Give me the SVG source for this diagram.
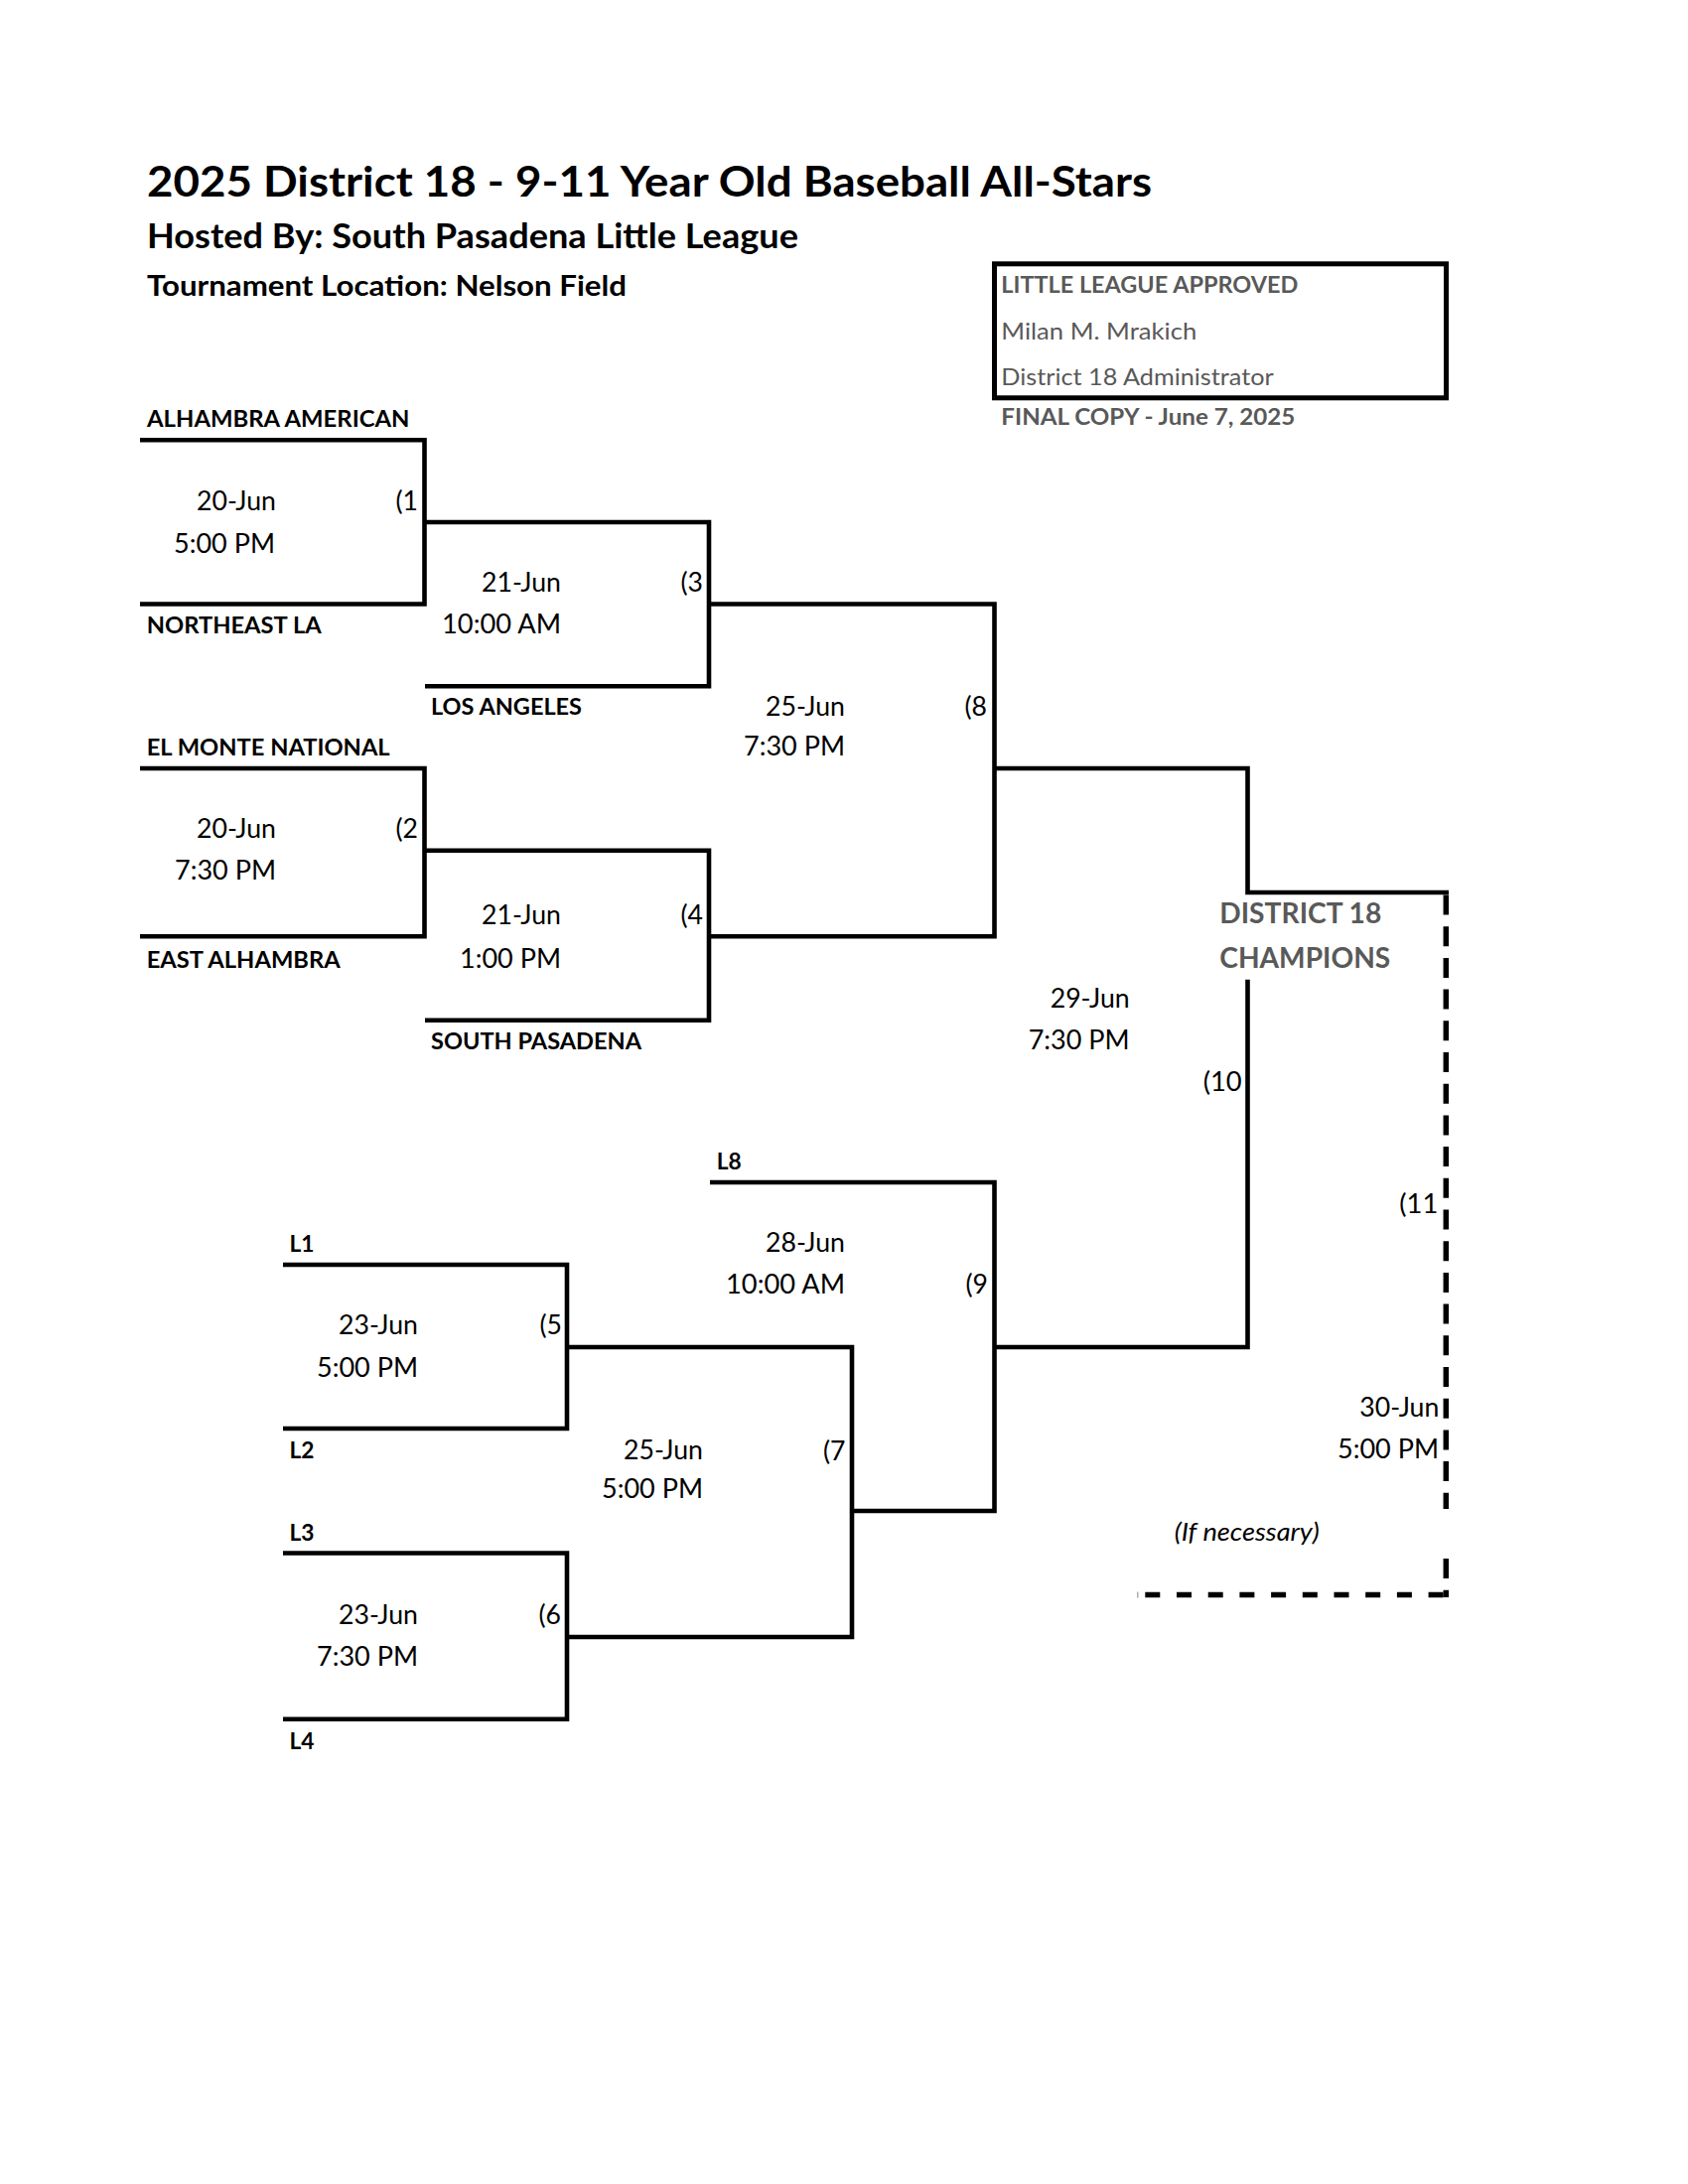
<svg xmlns="http://www.w3.org/2000/svg" width="1700" height="2200" viewBox="0 0 1700 2200">
<style>
text{font-family:Lato,"Liberation Sans",sans-serif;fill:#000}
.h{font-weight:bold}
.n{font-size:23.5px;font-weight:bold}
.d{font-size:27px;text-anchor:end}
.g{fill:#595959}
.ln{stroke:#000;stroke-width:4.6;fill:none;stroke-linejoin:miter}
.dv{stroke:#000;stroke-width:5.5;fill:none;stroke-dasharray:20 11.7}
.dh{stroke:#000;stroke-width:5.5;fill:none;stroke-dasharray:15 16.7}
</style>
<rect width="1700" height="2200" fill="#fff"/>
<g id="header">
<text class="h" x="148" y="198.3" font-size="42" textLength="1012" lengthAdjust="spacingAndGlyphs">2025 District 18 - 9-11 Year Old Baseball All-Stars</text>
<text class="h" x="148" y="250" font-size="33.5" textLength="656" lengthAdjust="spacingAndGlyphs">Hosted By: South Pasadena Little League</text>
<text class="h" x="148" y="297.7" font-size="29.3" textLength="483" lengthAdjust="spacingAndGlyphs">Tournament Location: Nelson Field</text>
</g>
<g id="approval">
<rect x="1001.5" y="265.8" width="455" height="135" fill="none" stroke="#000" stroke-width="5"/>
<text class="h g" x="1008.3" y="295" font-size="22" textLength="299" lengthAdjust="spacingAndGlyphs">LITTLE LEAGUE APPROVED</text>
<text class="g" x="1008.3" y="341.7" font-size="23.3" textLength="197" lengthAdjust="spacingAndGlyphs">Milan M. Mrakich</text>
<text class="g" x="1008.3" y="388.3" font-size="23.3" textLength="274.4" lengthAdjust="spacingAndGlyphs">District 18 Administrator</text>
<text class="h g" x="1008.3" y="428.3" font-size="22" textLength="296" lengthAdjust="spacingAndGlyphs">FINAL COPY - June 7, 2025</text>
</g>
<g id="connectors">
<path class="ln" d="M141,443.3 H427.5 V608.5 H141"/>
<path class="ln" d="M427.5,526 H714 V691.3 H428"/>
<path class="ln" d="M141,774 H427.5 V943.3 H141"/>
<path class="ln" d="M427.5,856.7 H714 V1027.7 H428"/>
<path class="ln" d="M714,608.5 H1001.5 V943.3 H714"/>
<path class="ln" d="M1001.5,774 H1256.5 V899 H1459"/>
<path class="ln" d="M1256.5,986.7 V1357 H1001.5"/>
<path class="ln" d="M715,1191 H1001.5 V1522 H858"/>
<path class="ln" d="M285,1274 H571 V1439 H285"/>
<path class="ln" d="M571,1357 H858 V1649 H571"/>
<path class="ln" d="M285,1564.5 H571 V1731.7 H285"/>
<path class="dv" d="M1456.3,901.5 V1520"/>
<path class="dv" d="M1456.3,1570 V1609"/>
<path class="dh" d="M1153.3,1606.5 H1459"/>
<path d="M1145.8,1603.5 V1609.5" stroke="#999" stroke-width="1.2"/>
</g>
<g id="m1">
<text class="n" x="148" y="430" textLength="264.5" lengthAdjust="spacingAndGlyphs">ALHAMBRA AMERICAN</text>
<text class="n" x="147.7" y="638.3" textLength="176" lengthAdjust="spacingAndGlyphs">NORTHEAST LA</text>
<text class="d" x="278" y="514" textLength="80" lengthAdjust="spacingAndGlyphs">20-Jun</text>
<text class="d" x="277" y="556.7" textLength="102" lengthAdjust="spacingAndGlyphs">5:00 PM</text>
<text class="d" x="421" y="514" textLength="22.5" lengthAdjust="spacingAndGlyphs">(1</text>
</g>
<g id="m2">
<text class="n" x="147.7" y="760.7" textLength="245" lengthAdjust="spacingAndGlyphs">EL MONTE NATIONAL</text>
<text class="n" x="147.7" y="975" textLength="195" lengthAdjust="spacingAndGlyphs">EAST ALHAMBRA</text>
<text class="d" x="278" y="844" textLength="80" lengthAdjust="spacingAndGlyphs">20-Jun</text>
<text class="d" x="278" y="886" textLength="102" lengthAdjust="spacingAndGlyphs">7:30 PM</text>
<text class="d" x="421" y="844" textLength="22.5" lengthAdjust="spacingAndGlyphs">(2</text>
</g>
<g id="m3">
<text class="n" x="434" y="720" textLength="152" lengthAdjust="spacingAndGlyphs">LOS ANGELES</text>
<text class="d" x="565" y="596" textLength="80" lengthAdjust="spacingAndGlyphs">21-Jun</text>
<text class="d" x="565" y="638" textLength="120" lengthAdjust="spacingAndGlyphs">10:00 AM</text>
<text class="d" x="708" y="596" textLength="22.5" lengthAdjust="spacingAndGlyphs">(3</text>
</g>
<g id="m4">
<text class="n" x="434" y="1057" textLength="212" lengthAdjust="spacingAndGlyphs">SOUTH PASADENA</text>
<text class="d" x="565" y="930.7" textLength="80" lengthAdjust="spacingAndGlyphs">21-Jun</text>
<text class="d" x="565" y="975" textLength="102" lengthAdjust="spacingAndGlyphs">1:00 PM</text>
<text class="d" x="708" y="930.7" textLength="22.5" lengthAdjust="spacingAndGlyphs">(4</text>
</g>
<g id="m8">
<text class="d" x="851" y="720.7" textLength="80" lengthAdjust="spacingAndGlyphs">25-Jun</text>
<text class="d" x="851" y="760.7" textLength="102" lengthAdjust="spacingAndGlyphs">7:30 PM</text>
<text class="d" x="994" y="720.7" textLength="22.5" lengthAdjust="spacingAndGlyphs">(8</text>
</g>
<g id="champions">
<text class="h g" x="1228.3" y="930" font-size="29" textLength="163" lengthAdjust="spacingAndGlyphs">DISTRICT 18</text>
<text class="h g" x="1228.3" y="975" font-size="29" textLength="172" lengthAdjust="spacingAndGlyphs">CHAMPIONS</text>
</g>
<g id="m10">
<text class="d" x="1137.7" y="1015" textLength="80" lengthAdjust="spacingAndGlyphs">29-Jun</text>
<text class="d" x="1137.7" y="1057" textLength="102" lengthAdjust="spacingAndGlyphs">7:30 PM</text>
<text class="d" x="1250.7" y="1099" textLength="39" lengthAdjust="spacingAndGlyphs">(10</text>
</g>
<g id="m9">
<text class="n" x="721.7" y="1178" textLength="25" lengthAdjust="spacingAndGlyphs">L8</text>
<text class="d" x="851" y="1260.7" textLength="80" lengthAdjust="spacingAndGlyphs">28-Jun</text>
<text class="d" x="851" y="1303" textLength="120" lengthAdjust="spacingAndGlyphs">10:00 AM</text>
<text class="d" x="995" y="1303" textLength="22.5" lengthAdjust="spacingAndGlyphs">(9</text>
</g>
<g id="m5">
<text class="n" x="291.5" y="1260.7" textLength="25" lengthAdjust="spacingAndGlyphs">L1</text>
<text class="n" x="291.5" y="1469.3" textLength="25" lengthAdjust="spacingAndGlyphs">L2</text>
<text class="d" x="421" y="1344" textLength="80" lengthAdjust="spacingAndGlyphs">23-Jun</text>
<text class="d" x="421" y="1386.7" textLength="102" lengthAdjust="spacingAndGlyphs">5:00 PM</text>
<text class="d" x="566" y="1344" textLength="22.5" lengthAdjust="spacingAndGlyphs">(5</text>
</g>
<g id="m7">
<text class="d" x="708" y="1470" textLength="80" lengthAdjust="spacingAndGlyphs">25-Jun</text>
<text class="d" x="708" y="1509" textLength="102" lengthAdjust="spacingAndGlyphs">5:00 PM</text>
<text class="d" x="851.5" y="1471" textLength="22.5" lengthAdjust="spacingAndGlyphs">(7</text>
</g>
<g id="m6">
<text class="n" x="291.5" y="1551.7" textLength="25" lengthAdjust="spacingAndGlyphs">L3</text>
<text class="n" x="291.5" y="1761.7" textLength="25" lengthAdjust="spacingAndGlyphs">L4</text>
<text class="d" x="421" y="1636" textLength="80" lengthAdjust="spacingAndGlyphs">23-Jun</text>
<text class="d" x="421" y="1678.3" textLength="102" lengthAdjust="spacingAndGlyphs">7:30 PM</text>
<text class="d" x="565" y="1636" textLength="22.5" lengthAdjust="spacingAndGlyphs">(6</text>
</g>
<g id="m11">
<text class="d" x="1448.3" y="1221.7" textLength="39" lengthAdjust="spacingAndGlyphs">(11</text>
<text class="d" x="1449.3" y="1426.7" textLength="80" lengthAdjust="spacingAndGlyphs">30-Jun</text>
<text class="d" x="1449" y="1469.3" textLength="102" lengthAdjust="spacingAndGlyphs">5:00 PM</text>
<text x="1182.7" y="1551.7" font-size="26" font-style="italic" textLength="146" lengthAdjust="spacingAndGlyphs">(If necessary)</text>
</g>
</svg>
